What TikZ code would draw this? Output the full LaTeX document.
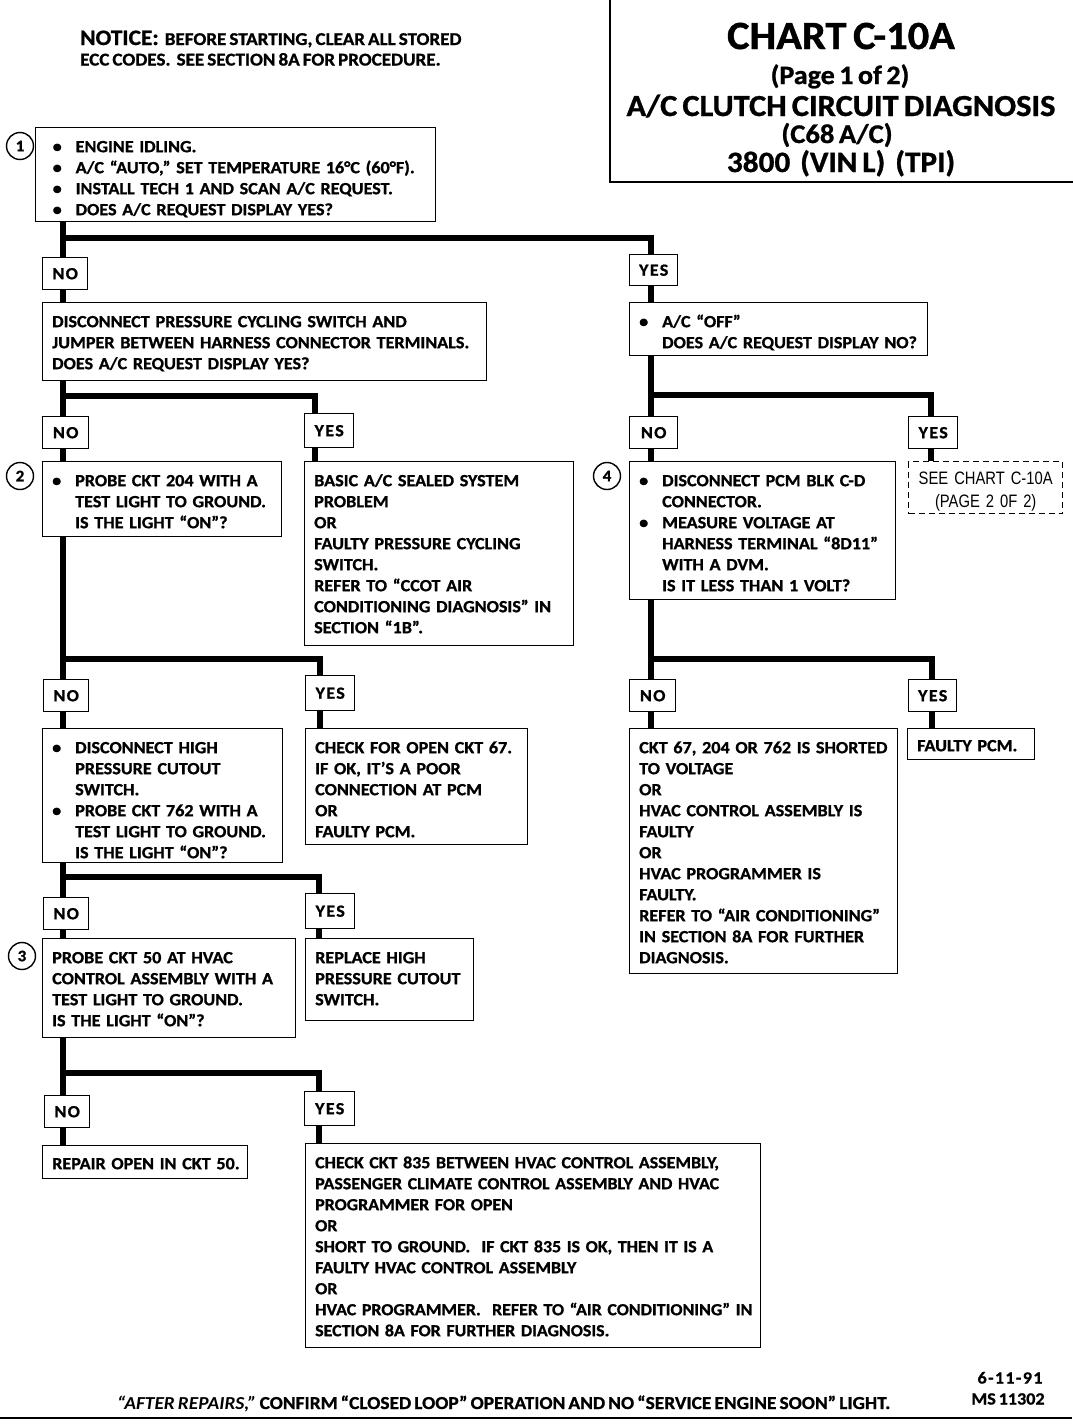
\documentclass[tikz,border=0pt]{standalone}
\usepackage{fontspec}
\setmainfont{Carlito}[FakeStretch=1.06, WordSpace=0.7, BoldFeatures={FakeBold=1}]
\newfontfamily\narrowsans[FakeStretch=0.82]{Liberation Sans}
\newfontfamily\answerfont[FakeStretch=1.06, LetterSpace=8, BoldFeatures={FakeBold=1}]{Carlito}
\usetikzlibrary{positioning}

% bullet item and hanging indent for the step boxes
\newcommand\bul{\makebox[23pt][l]{\textbullet}}
\newcommand\ind{\hspace*{23pt}}
\newcommand\lines[1]{\noindent\begin{tabular}[t]{@{}l@{}}#1\end{tabular}}
\newcommand\clines[1]{\noindent\begin{tabular}[t]{@{}c@{}}#1\end{tabular}}

\begin{document}
\begin{tikzpicture}[x=1pt, y=-1pt,
    % Style definitions
    chart/.style={font=\bfseries\fontsize{17.1}{21}\selectfont},
    box/.style={chart, draw, line width=1.4pt, anchor=north west, inner xsep=9.5pt, inner ysep=0pt, text height=24.5pt, align=left},
    refbox/.style={box, dash pattern=on 6pt off 4pt, align=center, font=\narrowsans\fontsize{18}{23}\selectfont},
    answer/.style={draw, line width=1.4pt, anchor=north west, inner sep=0pt, align=center, font=\answerfont\bfseries\fontsize{17}{17}\selectfont},
    stepnum/.style={circle, draw, line width=1.4pt, minimum size=27pt, inner sep=0pt, font=\bfseries\fontsize{16}{16}\selectfont},
    flow/.style={line width=5.5pt},
    frame/.style={line width=1.6pt}
]
\path[fill=white, use as bounding box] (0,0) rectangle (1072,1424);

% Title block
\node[frame, draw, anchor=north west, minimum width=470pt, minimum height=184pt, inner sep=0pt] (titlebox) at (609,-3) {};
\node[anchor=base, font=\bfseries\fontsize{40}{40}\selectfont] (title) at (841,49) {CHART C-10A};
\node[anchor=base, font=\bfseries\fontsize{26.5}{26.5}\selectfont] (titlepage) at (840,84) {(Page 1 of 2)};
\node[anchor=base, font=\bfseries\fontsize{30.6}{30.6}\selectfont] (titlename) at (841,116) {A/C CLUTCH CIRCUIT DIAGNOSIS};
\node[anchor=base, font=\bfseries\fontsize{27}{27}\selectfont] (titlemodel) at (837,143) {(C68 A/C)};
\node[anchor=base, font=\bfseries\fontsize{29.5}{29.5}\selectfont] (titleengine) at (841,172) {3800 \ (VIN L) \ (TPI)};

% Notice
\node[chart, anchor=base west, inner sep=0pt, font=\bfseries\fontsize{18}{21}\selectfont] (notice) at (80,45) {{\fontsize{22}{22}\selectfont NOTICE:}\ \ BEFORE STARTING, CLEAR ALL STORED};
\node[chart, anchor=base west, inner sep=0pt, font=\bfseries\fontsize{18}{21}\selectfont] (notice2) at (80,65.5) {ECC CODES. \ SEE SECTION 8A FOR PROCEDURE.};

% Step 1
\node[box, inner xsep=17pt, text width=366pt, text depth=69.5pt] (start) at (35,127) {\lines{%
    \bul ENGINE IDLING.\\
    \bul A/C “AUTO,” SET TEMPERATURE 16°C (60°F).\\
    \bul INSTALL TECH 1 AND SCAN A/C REQUEST.\\
    \bul DOES A/C REQUEST DISPLAY YES?}};
\node[stepnum] (num1) at (20,146) {1};

\node[answer, minimum width=45pt, minimum height=32pt] (no1) at (42,257) {NO};
\node[answer, minimum width=48pt, minimum height=31pt] (yes1) at (629,254) {YES};

% Second level
\node[box, text width=425pt, text depth=53.5pt] (jumper) at (42,302) {\lines{%
    DISCONNECT PRESSURE CYCLING SWITCH AND\\
    JUMPER BETWEEN HARNESS CONNECTOR TERMINALS.\\
    DOES A/C REQUEST DISPLAY YES?}};
\node[box, text width=279pt, text depth=28.5pt] (acoff) at (629,302) {\lines{%
    \bul A/C “OFF”\\
    \ind DOES A/C REQUEST DISPLAY NO?}};

\node[answer, minimum width=46pt, minimum height=32pt] (no2) at (42,416) {NO};
\node[answer, minimum width=49pt, minimum height=34pt] (yes2) at (304,413) {YES};
\node[answer, minimum width=48pt, minimum height=32pt] (noR2) at (629,416) {NO};
\node[answer, minimum width=49pt, minimum height=32pt] (yesR2) at (908,416) {YES};

% Step 2 and step 4
\node[box, text width=220pt, text depth=50.5pt] (probe204) at (42,461) {\lines{%
    \bul PROBE CKT 204 WITH A\\
    \ind TEST LIGHT TO GROUND.\\
    \ind IS THE LIGHT “ON”?}};
\node[stepnum] (num2) at (20,476) {2};
\node[box, text width=250pt, text depth=159.5pt] (sealed) at (304,461) {\lines{%
    BASIC A/C SEALED SYSTEM\\
    PROBLEM\\
    OR\\
    FAULTY PRESSURE CYCLING\\
    SWITCH.\\
    REFER TO “CCOT AIR\\
    CONDITIONING DIAGNOSIS” IN\\
    SECTION “1B”.}};
\node[box, text width=247pt, text depth=113.5pt] (pcm) at (629,461) {\lines{%
    \bul DISCONNECT PCM BLK C-D\\
    \ind CONNECTOR.\\
    \bul MEASURE VOLTAGE AT\\
    \ind HARNESS TERMINAL “8D11”\\
    \ind WITH A DVM.\\
    \ind IS IT LESS THAN 1 VOLT?}};
\node[stepnum] (num4) at (607,476) {4};
\node[refbox, text width=135pt, text height=22.5pt, text depth=29.5pt] (seechart) at (908,461) {\clines{%
    SEE CHART C-10A\\
    (PAGE 2 0F 2)}};

\node[answer, minimum width=45pt, minimum height=32pt] (no3) at (43,679) {NO};
\node[answer, minimum width=49pt, minimum height=35pt] (yes3) at (305,675) {YES};
\node[answer, minimum width=46pt, minimum height=32pt] (noR3) at (629,679) {NO};
\node[answer, minimum width=48pt, minimum height=32pt] (yesR3) at (908,679) {YES};

% Third level
\node[box, text width=221pt, text depth=109.5pt] (probe762) at (42,728) {\lines{%
    \bul DISCONNECT HIGH\\
    \ind PRESSURE CUTOUT\\
    \ind SWITCH.\\
    \bul PROBE CKT 762 WITH A\\
    \ind TEST LIGHT TO GROUND.\\
    \ind IS THE LIGHT “ON”?}};
\node[box, text width=203pt, text depth=91.5pt] (open67) at (305,728) {\lines{%
    CHECK FOR OPEN CKT 67.\\
    IF OK, IT’S A POOR\\
    CONNECTION AT PCM\\
    OR\\
    FAULTY PCM.}};
\node[box, text width=249pt, text depth=220.5pt] (shorted) at (629,728) {\lines{%
    CKT 67, 204 OR 762 IS SHORTED\\
    TO VOLTAGE\\
    OR\\
    HVAC CONTROL ASSEMBLY IS\\
    FAULTY\\
    OR\\
    HVAC PROGRAMMER IS\\
    FAULTY.\\
    REFER TO “AIR CONDITIONING”\\
    IN SECTION 8A FOR FURTHER\\
    DIAGNOSIS.}};
\node[box, text width=108pt, text height=22.5pt, text depth=8.5pt] (faultypcm) at (907,728) {\lines{FAULTY PCM.}};

\node[answer, minimum width=45pt, minimum height=32pt] (no4) at (43,897) {NO};
\node[answer, minimum width=49pt, minimum height=35pt] (yes4) at (305,893) {YES};

% Step 3
\node[box, text width=234pt, text depth=74.5pt] (probe50) at (42,938) {\lines{%
    PROBE CKT 50 AT HVAC\\
    CONTROL ASSEMBLY WITH A\\
    TEST LIGHT TO GROUND.\\
    IS THE LIGHT “ON”?}};
\node[stepnum] (num3) at (22,956) {3};
\node[box, text width=149pt, text depth=57.5pt] (replace) at (305,938) {\lines{%
    REPLACE HIGH\\
    PRESSURE CUTOUT\\
    SWITCH.}};

\node[answer, minimum width=45pt, minimum height=32pt] (no5) at (44,1095) {NO};
\node[answer, minimum width=50pt, minimum height=34pt] (yes5) at (304,1091) {YES};

% Last level
\node[box, text width=186pt, text height=23.5pt, text depth=9.5pt] (repair50) at (42,1145) {\lines{REPAIR OPEN IN CKT 50.}};
\node[box, text width=436pt, text depth=179.5pt, font=\bfseries\fontsize{16.9}{21}\selectfont] (check835) at (305,1143) {\lines{%
    CHECK CKT 835 BETWEEN HVAC CONTROL ASSEMBLY,\\
    PASSENGER CLIMATE CONTROL ASSEMBLY AND HVAC\\
    PROGRAMMER FOR OPEN\\
    OR\\
    SHORT TO GROUND. \ IF CKT 835 IS OK, THEN IT IS A\\
    FAULTY HVAC CONTROL ASSEMBLY\\
    OR\\
    HVAC PROGRAMMER. \ REFER TO “AIR CONDITIONING” IN\\
    SECTION 8A FOR FURTHER DIAGNOSIS.}};

% Footer
\node[chart, anchor=base west, inner sep=0pt, font=\bfseries\fontsize{18.3}{21}\selectfont] (footer) at (117,1409) {{\itshape “AFTER REPAIRS,”} CONFIRM “CLOSED LOOP” OPERATION AND NO “SERVICE ENGINE SOON” LIGHT.};
\node[chart, anchor=base, inner sep=0pt, font=\answerfont\bfseries\fontsize{17}{21}\selectfont] (date) at (1010,1383.5) {6-11-91};
\node[chart, anchor=base, inner sep=0pt] (msno) at (1008,1404.5) {MS 11302};
\draw[frame] (0,1418) -- (1072,1418);

% Junctions
\coordinate (j1) at (63,238);   \coordinate (k1) at (651,238);
\coordinate (j2) at (63,396);   \coordinate (k2) at (315,396);
\coordinate (m2) at (651,395);  \coordinate (r2) at (931,395);
\coordinate (j3) at (63,659);   \coordinate (k3) at (320,659);
\coordinate (m3) at (651,659);  \coordinate (r3) at (932,659);
\coordinate (j4) at (63,877);   \coordinate (k4) at (319,877);
\coordinate (j5) at (63,1073);  \coordinate (k5) at (319,1073);

% Connections
\draw[flow] (start.south -| j1) -- (no1.north -| j1);
\draw[flow] (j1) -| (yes1.north -| k1);
\draw[flow] (no1.south -| j1) -- (jumper.north -| j1);
\draw[flow] (yes1.south -| k1) -- (acoff.north -| k1);

\draw[flow] (jumper.south -| j2) -- (no2.north -| j2);
\draw[flow] (j2) -| (yes2.north -| k2);
\draw[flow] (no2.south -| j2) -- (probe204.north -| j2);
\draw[flow] (yes2.south -| k2) -- (sealed.north -| k2);

\draw[flow] (acoff.south -| m2) -- (noR2.north -| m2);
\draw[flow] (m2) -| (yesR2.north -| r2);
\draw[flow] (noR2.south -| m2) -- (pcm.north -| m2);
\draw[flow] (yesR2.south -| r2) -- (seechart.north -| r2);

\draw[flow] (probe204.south -| j3) -- (no3.north -| j3);
\draw[flow] (j3) -| (yes3.north -| k3);
\draw[flow] (no3.south -| j3) -- (probe762.north -| j3);
\draw[flow] (yes3.south -| k3) -- (open67.north -| k3);

\draw[flow] (pcm.south -| m3) -- (noR3.north -| m3);
\draw[flow] (m3) -| (yesR3.north -| r3);
\draw[flow] (noR3.south -| m3) -- (shorted.north -| m3);
\draw[flow] (yesR3.south -| r3) -- (faultypcm.north -| r3);

\draw[flow] (probe762.south -| j4) -- (no4.north -| j4);
\draw[flow] (j4) -| (yes4.north -| k4);
\draw[flow] (no4.south -| j4) -- (probe50.north -| j4);
\draw[flow] (yes4.south -| k4) -- (replace.north -| k4);

\draw[flow] (probe50.south -| j5) -- (no5.north -| j5);
\draw[flow] (j5) -| (yes5.north -| k5);
\draw[flow] (no5.south -| j5) -- (repair50.north -| j5);
\draw[flow] (yes5.south -| k5) -- (check835.north -| k5);

\end{tikzpicture}
\end{document}
